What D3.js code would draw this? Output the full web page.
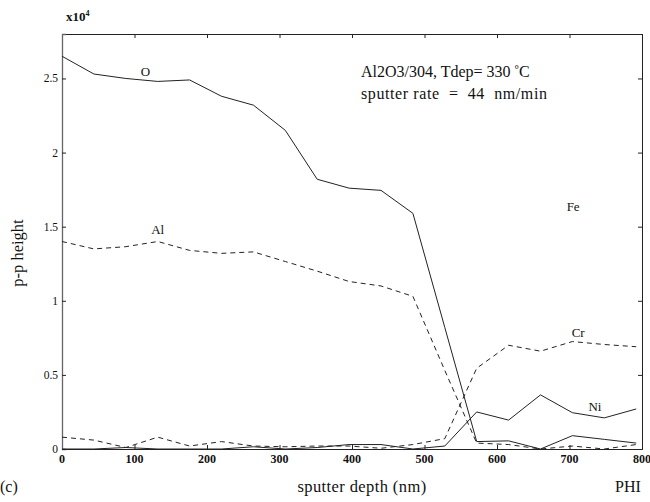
<!DOCTYPE html>
<html>
<head>
<meta charset="utf-8">
<script src="https://cdn.jsdelivr.net/npm/d3@7"></script>
<style>
  html, body { margin: 0; padding: 0; background: #fff; }
  svg { display: block; }
  text { font-family: "Liberation Serif", "DejaVu Serif", serif; fill: #111; white-space: pre; }
</style>
</head>
<body>
<svg id="chart" width="650" height="502"></svg>
<script>
// Sputter depth (nm) of each AES measurement
const depth = [0, 44, 88, 132, 176, 220, 264, 308, 352, 396, 440, 484, 528, 572, 616, 660, 704, 748, 792];

// Peak-to-peak heights, in units of 10^4
const oxygen   = [2.65, 2.53, 2.50, 2.48, 2.49, 2.38, 2.32, 2.15, 1.82, 1.76, 1.745, 1.59, 0.82, 0.05, 0.055, 0.0, 0.09, 0.065, 0.04];
const aluminum = [1.40, 1.35, 1.365, 1.40, 1.34, 1.32, 1.33, 1.265, 1.20, 1.13, 1.10, 1.03, 0.53, 0.04, 0.03, 0.0, 0.02, 0.0, 0.03];
const chromium = [0.08, 0.06, 0.01, 0.08, 0.02, 0.05, 0.02, 0.015, 0.02, 0.02, 0.005, 0.03, 0.07, 0.545, 0.70, 0.66, 0.725, 0.705, 0.69];
const nickel   = [0.0, 0.0, 0.01, 0.0, 0.0, 0.0, 0.015, 0.0, 0.01, 0.03, 0.03, 0.0, 0.02, 0.25, 0.195, 0.365, 0.245, 0.21, 0.27];

const xTicks = [0, 100, 200, 300, 400, 500, 600, 700, 800];
const yTicks = [0, 0.5, 1, 1.5, 2, 2.5];

const series = [
  { name: "O",  values: oxygen,   dashed: false, label: [115, 2.52] },
  { name: "Al", values: aluminum, dashed: true,  label: [132, 1.45] },
  { name: "Cr", values: chromium, dashed: true,  label: [712, 0.755] },
  { name: "Ni", values: nickel,   dashed: false, label: [735, 0.255] }
];
// Fe is marked by its label only
const extraLabels = [{ name: "Fe", at: [705, 1.605] }];

const svg = d3.select("#chart");
const plot = { left: 62, right: 642, top: 34, bottom: 449 };

const x = d3.scaleLinear().domain([0, 800]).range([plot.left, plot.right]);
const y = d3.scaleLinear().domain([0, 2.8]).range([plot.bottom, plot.top]);

// Frame with inward ticks on all four sides
const fmtY = d => d === 0 ? "0" : d3.format("")(d);
svg.append("g")
  .attr("transform", `translate(0,${plot.bottom})`)
  .call(d3.axisTop(x).tickValues(xTicks).tickSize(4).tickFormat(""))
  .call(g => g.select(".domain").attr("stroke", "#222"));
svg.append("g")
  .attr("transform", `translate(0,${plot.top})`)
  .call(d3.axisBottom(x).tickValues(xTicks).tickSize(4).tickFormat(""))
  .call(g => g.select(".domain").attr("stroke", "#222"));
svg.append("g")
  .attr("transform", `translate(${plot.left},0)`)
  .call(d3.axisRight(y).tickValues(yTicks).tickSize(4).tickFormat(""))
  .call(g => g.select(".domain").attr("stroke", "#666").attr("stroke-width", 1.3));
svg.append("g")
  .attr("transform", `translate(${plot.right},0)`)
  .call(d3.axisLeft(y).tickValues(yTicks).tickSize(4).tickFormat(""))
  .call(g => g.select(".domain").attr("stroke", "#222"));
svg.selectAll(".tick line").attr("stroke", "#222");

// Tick labels
svg.append("g").selectAll("text").data(xTicks).join("text")
  .attr("x", d => x(d)).attr("y", plot.bottom + 14)
  .attr("text-anchor", "middle")
  .style("font-size", "12px").style("font-weight", "bold")
  .text(d => d);
svg.append("g").selectAll("text").data(yTicks).join("text")
  .attr("x", plot.left - 4).attr("y", d => y(d) + 4)
  .attr("text-anchor", "end")
  .style("font-size", "11.5px")
  .text(fmtY);

// Multiplier above the y axis
const mult = svg.append("text").attr("x", 66).attr("y", 21)
  .style("font-size", "13px").style("font-weight", "bold");
mult.append("tspan").text("x10");
mult.append("tspan").attr("dy", -5).style("font-size", "8px").text("4");

// Axis titles
svg.append("text")
  .attr("transform", `translate(23,253) rotate(-90)`)
  .attr("text-anchor", "middle")
  .style("font-size", "16.5px")
  .text("p-p height");
svg.append("text")
  .attr("x", 362).attr("y", 492)
  .attr("text-anchor", "middle")
  .style("font-size", "16.5px")
  .style("letter-spacing", "0.4px")
  .text("sputter depth (nm)");
svg.append("text").attr("x", 615).attr("y", 492).style("font-size", "16px").text("PHI");
svg.append("text").attr("x", 0).attr("y", 492).style("font-size", "16px").text("(c)");

// Run conditions
const info = svg.append("text").attr("x", 361).attr("y", 77).style("font-size", "16px");
info.append("tspan").text("Al2O3/304, Tdep= 330 ");
info.append("tspan").attr("dy", -4).style("font-size", "11px").style("font-weight", "bold").text("°");
info.append("tspan").attr("dy", 4).text("C");
svg.append("text").attr("x", 361).attr("y", 99).style("font-size", "16px")
  .style("letter-spacing", "0.6px")
  .text("sputter rate  =  44  nm/min");

// Depth profiles
const line = d3.line().x(d => x(d[0])).y(d => y(d[1]));
svg.append("g").selectAll("path").data(series).join("path")
  .attr("d", s => line(depth.map((dv, i) => [dv, s.values[i]])))
  .attr("fill", "none")
  .attr("stroke", "#222")
  .attr("stroke-width", 1)
  .attr("stroke-dasharray", s => s.dashed ? "5,4" : null);

// Element labels
svg.append("g").selectAll("text").data(series.map(s => ({ name: s.name, at: s.label })).concat(extraLabels)).join("text")
  .attr("x", d => x(d.at[0])).attr("y", d => y(d.at[1]))
  .attr("text-anchor", "middle")
  .style("font-size", "13px")
  .text(d => d.name);
</script>
</body>
</html>
